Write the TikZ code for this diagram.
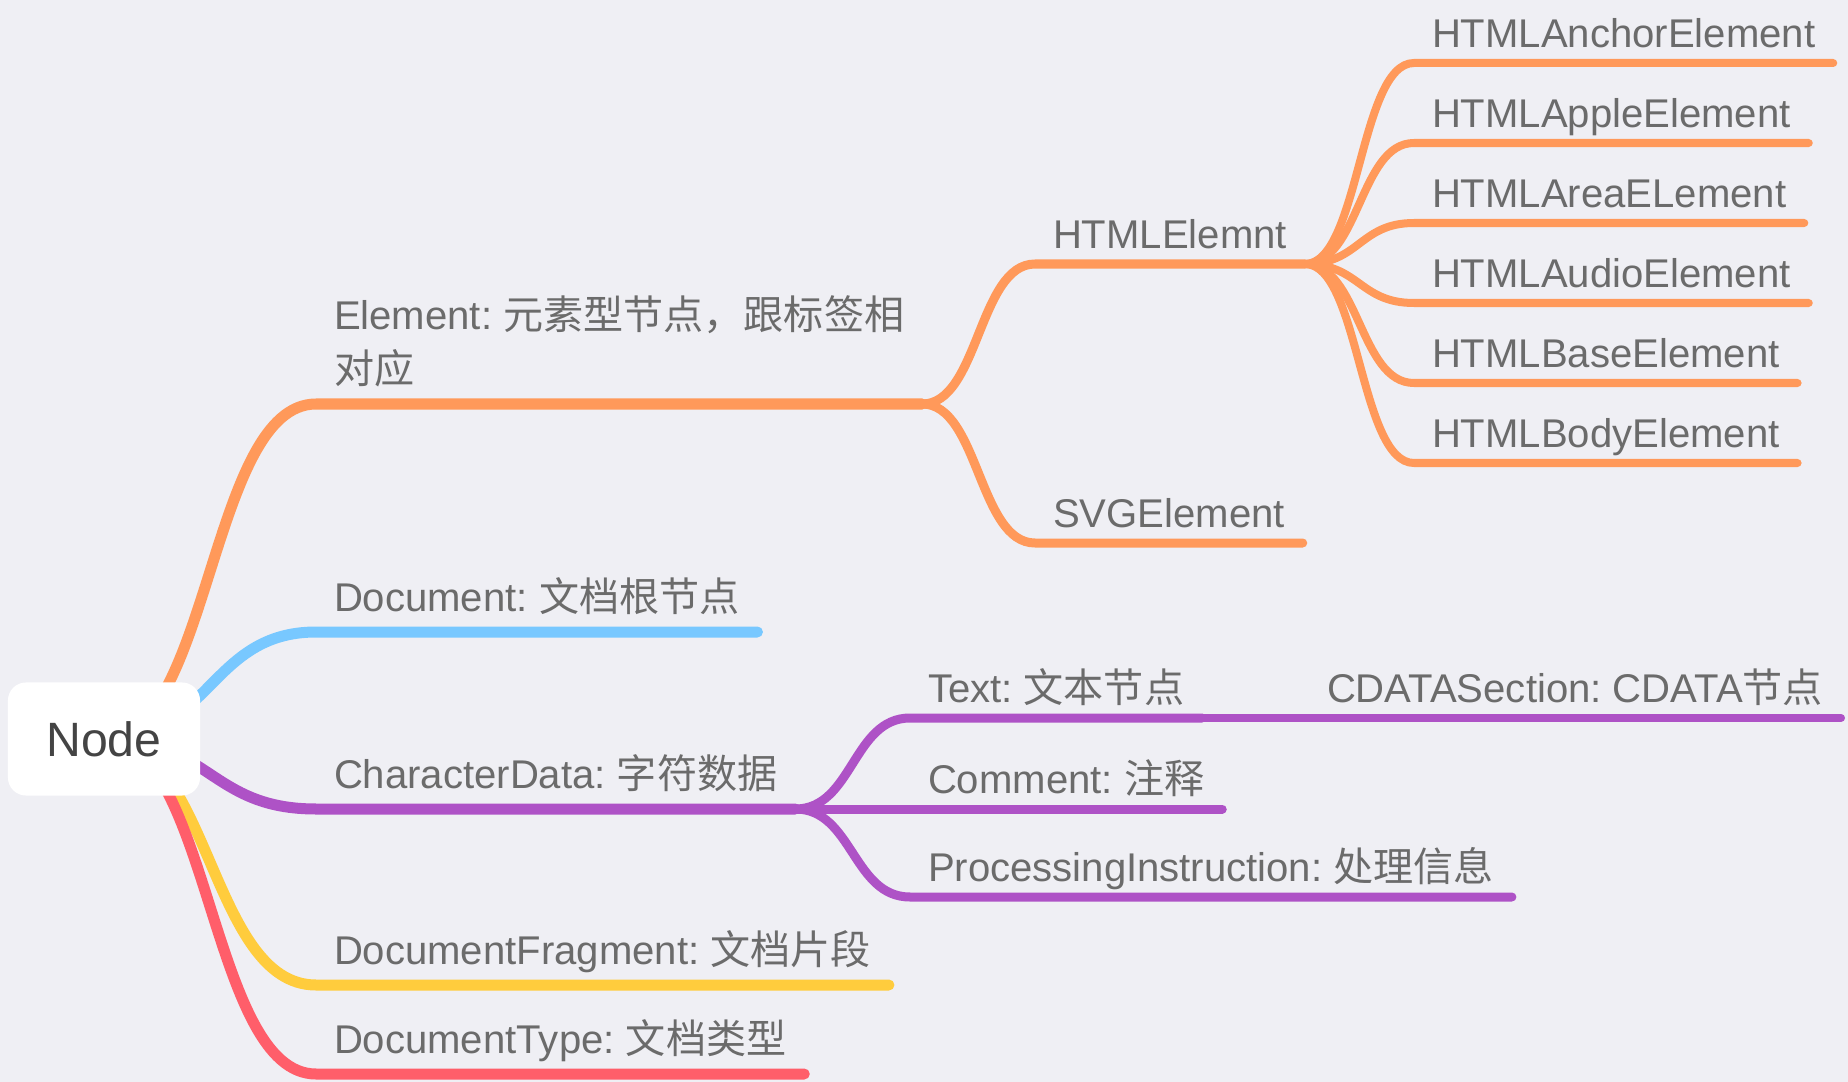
\documentclass[tikz,border=0pt]{standalone}
\usepackage{fontspec}
\setmainfont{Liberation Sans}
\newfontfamily\cjk{Noto Sans CJK SC}
\usetikzlibrary{calc}
\frenchspacing

\definecolor{bgcol}{RGB}{239,239,244}
\definecolor{txtcol}{RGB}{107,107,107}
\definecolor{rootcol}{RGB}{68,68,68}
\definecolor{orangecol}{RGB}{255,153,90}
\definecolor{bluecol}{RGB}{120,200,255}
\definecolor{purplecol}{RGB}{174,82,198}
\definecolor{yellowcol}{RGB}{255,204,61}
\definecolor{redcol}{RGB}{255,94,106}

\pgfdeclarelayer{back}
\pgfdeclarelayer{links}
\pgfsetlayers{back,links,main}

\tikzset{
    topic/.style={anchor=south west, inner xsep=0.18cm, inner ysep=0.20cm, outer sep=0pt,
        text depth=0pt, text=txtcol, font=\fontsize{11.4}{15.6}\selectfont},
    subtopic/.style={topic, inner ysep=0.15cm},
    root/.style={fill=white, rounded corners=0.18cm, minimum width=1.92cm, minimum height=1.13cm,
        inner sep=0pt, text=rootcol, font=\fontsize{13.7}{16}\selectfont},
    link/.style={to path={let \p1=(\tikztostart), \p2=(\tikztotarget) in
        .. controls ({0.5*\x1+0.5*\x2},\y1) and ({0.5*\x1+0.5*\x2},\y2) .. (\tikztotarget)}},
    lvla/.style={line width=0.11cm, line cap=round},
    lvlb/.style={line width=0.09cm, line cap=round},
    lvlc/.style={line width=0.08cm, line cap=round}
}

\begin{document}
\begin{tikzpicture}[x=0.01cm, y=-0.01cm]

        % Background
        \useasboundingbox (0,0) rectangle (1848,1082);
        \begin{pgfonlayer}{back}
            \fill[bgcol] (0,0) rectangle (1848,1082);
        \end{pgfonlayer}

        % Root
        \node[root] (root) at (104,739) {Node};

        % First level
        \node[topic, align=left] (elem) at (316,404) {Element: {\cjk 元素型节点，跟标签相}\\{\cjk 对应}};
        \node[topic] (doc) at (316,632) {Document: {\cjk 文档根节点}};
        \node[topic] (chdata) at (316,809) {CharacterData: {\cjk 字符数据}};
        \node[topic] (frag) at (316,985) {DocumentFragment: {\cjk 文档片段}};
        \node[topic] (dtype) at (316,1074) {DocumentType: {\cjk 文档类型}};

        \begin{pgfonlayer}{links}
            \draw[lvla, orangecol] (root.center) to[link] (elem.south west) -- (elem.south east);
            \draw[lvla, bluecol] (root.center) to[link] (doc.south west) -- (doc.south east);
            \draw[lvla, purplecol] (root.center) to[link] (chdata.south west) -- (chdata.south east);
            \draw[lvla, yellowcol] (root.center) to[link] (frag.south west) -- (frag.south east);
            \draw[lvla, redcol] (root.center) to[link] (dtype.south west) -- (dtype.south east);
        \end{pgfonlayer}

        % Element
        \node[subtopic] (html) at (1035,264) {HTMLElemnt};
        \node[subtopic] (svg) at (1035,543) {SVGElement};
        \draw[lvlb, orangecol] (elem.south east) to[link] (html.south west) -- (html.south east);
        \draw[lvlb, orangecol] (elem.south east) to[link] (svg.south west) -- (svg.south east);

        \foreach \i/\lbl/\y in {1/HTMLAnchorElement/63, 2/HTMLAppleElement/143, 3/HTMLAreaELement/223,
                4/HTMLAudioElement/303, 5/HTMLBaseElement/383, 6/HTMLBodyElement/463} {
            \node[subtopic] (h\i) at (1414,\y) {\lbl};
            \draw[lvlc, orangecol] (html.south east) to[link] (h\i.south west) -- (h\i.south east);
        }

        % CharacterData
        \node[subtopic] (txt) at (910,718) {Text: {\cjk 文本节点}};
        \node[subtopic] (cmt) at (910,809) {Comment: {\cjk 注释}};
        \node[subtopic] (proc) at (910,897) {ProcessingInstruction: {\cjk 处理信息}};
        \node[subtopic] (cdata) at (1309,718) {CDATASection: CDATA{\cjk 节点}};
        \draw[lvlb, purplecol] (chdata.south east) to[link] (txt.south west) -- (txt.south east);
        \draw[lvlb, purplecol] (chdata.south east) to[link] (cmt.south west) -- (cmt.south east);
        \draw[lvlb, purplecol] (chdata.south east) to[link] (proc.south west) -- (proc.south east);
        \draw[lvlc, purplecol] (txt.south east) to[link] (cdata.south west) -- (cdata.south east);

\end{tikzpicture}
\end{document}
